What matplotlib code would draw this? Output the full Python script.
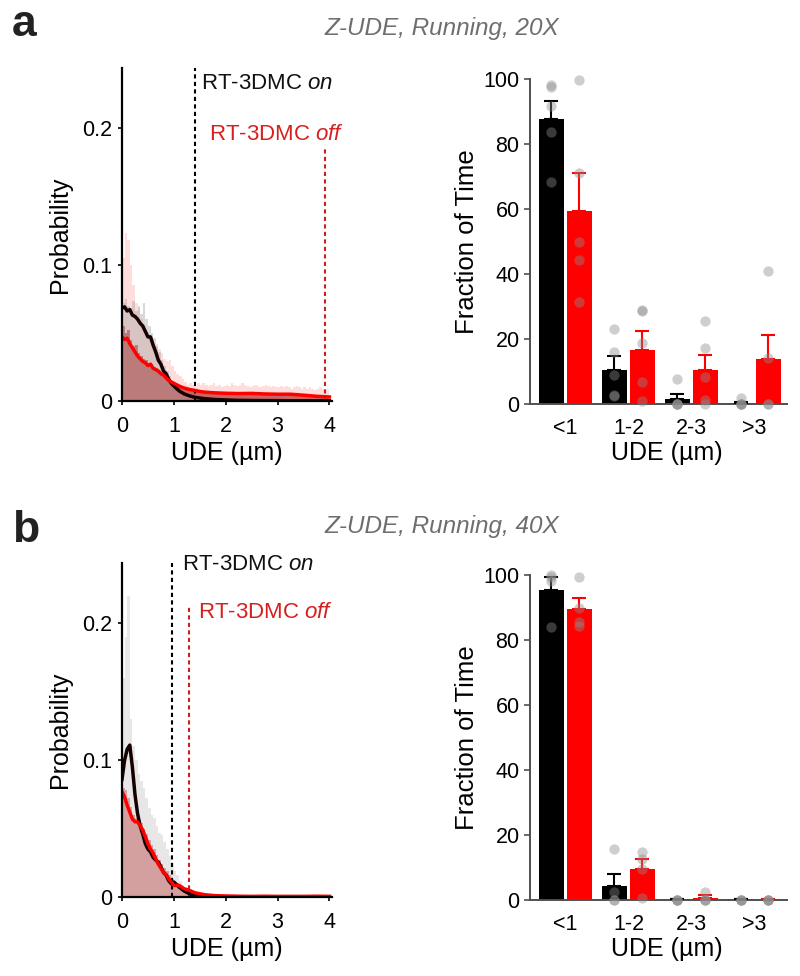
import numpy as np
import matplotlib
matplotlib.use("Agg")
import matplotlib.pyplot as plt

plt.rcParams['font.family'] = ['Liberation Sans', 'DejaVu Sans']
plt.rcParams['mathtext.fontset'] = 'custom'
plt.rcParams['mathtext.rm'] = 'Liberation Sans'
plt.rcParams['mathtext.it'] = 'Liberation Sans:italic'

# ---------------- data ----------------
bin_w = 0.05
line_x = [0, 0.05, 0.1, 0.15, 0.2, 0.25, 0.3, 0.35, 0.4, 0.45, 0.5, 0.55, 0.6, 0.65,
          0.7, 0.75, 0.8, 0.85, 0.9, 0.95, 1.0, 1.1, 1.2, 1.3, 1.4, 1.5, 1.6, 1.8,
          2.0, 2.25, 2.5, 2.75, 3.0, 3.25, 3.5, 3.75, 4.0]

# panel a (20X) histograms, bins of 0.05 from 0
a_gray_hist = [0.072, 0.075, 0.070, 0.068, 0.073, 0.066, 0.070, 0.064, 0.072, 0.060,
               0.055, 0.050, 0.046, 0.040, 0.036, 0.030, 0.026, 0.022, 0.018, 0.015,
               0.012, 0.010, 0.008, 0.006, 0.005, 0.004, 0.003, 0.003, 0.002, 0.002,
               0.002, 0.0015, 0.0015, 0.001, 0.001, 0.001, 0.001, 0.0008, 0.0008, 0.0008]
a_pink_hist = [0.105, 0.123, 0.118, 0.100, 0.085, 0.072, 0.068, 0.060, 0.056, 0.050,
               0.046, 0.044, 0.040, 0.042, 0.038, 0.035, 0.031, 0.029, 0.030, 0.026,
               0.022, 0.020, 0.018, 0.016, 0.014, 0.012, 0.013, 0.012, 0.011, 0.013,
               0.012, 0.013, 0.012, 0.011, 0.012, 0.013, 0.011, 0.012, 0.010, 0.011,
               0.012, 0.011, 0.013, 0.012, 0.011, 0.012, 0.013, 0.012, 0.011, 0.010,
               0.011, 0.012, 0.011, 0.010, 0.011, 0.012, 0.011, 0.010, 0.011, 0.010,
               0.010, 0.011, 0.010, 0.011, 0.010, 0.009, 0.010, 0.011, 0.010, 0.009,
               0.010, 0.009, 0.010, 0.009, 0.008, 0.009, 0.010, 0.009, 0.008, 0.009]
a_red_hist = [0.055, 0.050, 0.052, 0.045, 0.040, 0.041, 0.035, 0.033, 0.031, 0.030,
              0.028, 0.027, 0.025, 0.024, 0.022, 0.020, 0.019, 0.017, 0.015, 0.014,
              0.012, 0.011, 0.010, 0.009, 0.0085, 0.008, 0.0078, 0.0075, 0.007, 0.0068,
              0.0066, 0.0065, 0.0062, 0.006, 0.006, 0.0058, 0.0058, 0.0057, 0.0056, 0.0056,
              0.0055, 0.0056, 0.0055, 0.0054, 0.0056, 0.0057, 0.0055, 0.0054, 0.0056, 0.0055,
              0.0054, 0.0053, 0.0055, 0.0052, 0.0053, 0.0051, 0.0052, 0.0050, 0.0051, 0.0050,
              0.0050, 0.0051, 0.0050, 0.0049, 0.0050, 0.0048, 0.0047, 0.0046, 0.0045, 0.0044,
              0.0042, 0.0041, 0.0040, 0.0038, 0.0037, 0.0035, 0.0034, 0.0032, 0.0031, 0.0030]
a_black_line = [0.068, 0.069, 0.066, 0.067, 0.063, 0.062, 0.060, 0.057, 0.055, 0.051,
                0.047, 0.047, 0.041, 0.036, 0.030, 0.027, 0.022, 0.020, 0.016, 0.013,
                0.011, 0.0075, 0.0052, 0.0038, 0.0028, 0.0022, 0.0017, 0.0011,
                0.0008, 0.0005, 0.0004, 0.0003, 0.0003, 0.0002, 0.0002, 0.0002, 0.0002]
a_red_line = [0.047, 0.045, 0.046, 0.042, 0.039, 0.036, 0.033, 0.031, 0.029, 0.028,
              0.026, 0.027, 0.024, 0.023, 0.022, 0.020, 0.019, 0.017, 0.015, 0.014,
              0.013, 0.011, 0.0095, 0.0085, 0.0078, 0.0070, 0.0065, 0.006,
              0.0057, 0.0055, 0.0056, 0.0052, 0.0050, 0.0050, 0.0043, 0.0035, 0.0030]
a_on, a_off = 1.40, 3.91

# panel b (40X)
b_gray_hist = [0.16, 0.19, 0.22, 0.13, 0.11, 0.10, 0.09, 0.085, 0.08, 0.072,
               0.065, 0.06, 0.058, 0.052, 0.047, 0.045, 0.04, 0.035, 0.03, 0.025,
               0.019, 0.016, 0.012, 0.009, 0.007, 0.005, 0.004, 0.003, 0.002, 0.0015,
               0.0012, 0.001, 0.001, 0.0009, 0.0008, 0.0008, 0.0007, 0.0006, 0.0006, 0.0005]
b_red_hist = [0.080, 0.078, 0.072, 0.066, 0.060, 0.058, 0.057, 0.054, 0.050, 0.046,
              0.042, 0.038, 0.035, 0.031, 0.027, 0.024, 0.021, 0.019, 0.016, 0.013,
              0.011, 0.010, 0.009, 0.007, 0.006, 0.005, 0.004, 0.003, 0.0025, 0.002,
              0.0018, 0.0015, 0.0012, 0.001, 0.0009, 0.0008, 0.0007, 0.0007, 0.0006, 0.0006]
b_black_line = [0.086, 0.100, 0.108, 0.111, 0.095, 0.075, 0.061, 0.052, 0.046, 0.039,
                0.035, 0.033, 0.029, 0.027, 0.0255, 0.022, 0.018, 0.016, 0.012, 0.0097,
                0.011, 0.0073, 0.0044, 0.0024, 0.0012, 0.0007, 0.0004, 0.0003,
                0.0002, 0.0002, 0.0002, 0.0002, 0.0002, 0.0002, 0.0002, 0.0002, 0.0002]
b_red_line = [0.077, 0.073, 0.067, 0.062, 0.057, 0.055, 0.055, 0.052, 0.049, 0.044,
              0.039, 0.035, 0.032, 0.028, 0.024, 0.021, 0.018, 0.0165, 0.0134, 0.011,
              0.0085, 0.0085, 0.006, 0.0049, 0.0032, 0.0024, 0.0017, 0.001,
              0.0008, 0.0006, 0.0005, 0.0006, 0.0005, 0.0005, 0.0005, 0.0006, 0.0005]
b_on, b_off = 0.96, 1.29

# bar charts: fraction of time per UDE bin
cats = ['<1', '1-2', '2-3', '>3']
a_black_mean = [87.7, 10.6, 1.5, 0.3]
a_black_err = [5.6, 4.1, 1.7, 0.4]
a_red_mean = [59.3, 16.7, 10.4, 13.8]
a_red_err = [11.8, 5.9, 4.7, 7.5]
a_black_pts = [[98, 97.4, 91.6, 83.6, 68.2], [23.1, 15.9, 9.0, 2.9, 2.4],
               [7.8, 0, 0, 0, 0], [1.7, 0, 0, 0, 0]]
a_red_pts = [[99.8, 71, 49.8, 44.3, 31.3], [29.0, 28.5, 18.8, 6.7, 0.8],
             [25.6, 17.2, 8.3, 1.3, 0], [40.9, 14.2, 0, 0]]

b_black_mean = [95.4, 4.3, 0.2, 0.2]
b_black_err = [4.1, 3.8, 0, 0]
b_red_mean = [89.5, 9.4, 0.5, 0.3]
b_red_err = [3.5, 3.2, 1.0, 0]
b_black_pts = [[100, 99.5, 98, 84.1], [15.8, 2.3, 0, 0], [0, 0, 0, 0], [0, 0, 0, 0]]
b_red_pts = [[99.3, 89.7, 85.6, 84.4], [14.8, 12.5, 9.4, 0.5], [2.6, 0, 0, 0], [0, 0, 0, 0]]

RED = '#ff0000'
TXT_RED = '#d71f1f'


def hist_panel(ax, gray_h, red_h, pink_h, black_l, red_l, x_on, x_off, off_top, on_xy, off_xy,
               red_col, gray_col):
    if pink_h is not None:
        xs = np.arange(len(pink_h)) * bin_w + bin_w / 2
        ax.bar(xs, pink_h, width=bin_w, color='#ff8f8f', alpha=0.3, lw=0, zorder=1)
    xs = np.arange(len(red_h)) * bin_w + bin_w / 2
    ax.bar(xs, red_h, width=bin_w, color=red_col, alpha=0.65, lw=0, zorder=2)
    xs = np.arange(len(gray_h)) * bin_w + bin_w / 2
    ax.bar(xs, gray_h, width=bin_w, color=gray_col, alpha=0.4, lw=0, zorder=3)
    ax.plot(line_x, black_l, color='#160000', lw=2.5, zorder=5)
    ax.plot(line_x, red_l, color=RED, lw=2.5, zorder=6)
    ax.axvline(x_on, color='black', lw=1.5, ls=(0, (2, 1.6)), zorder=4)
    ax.plot([x_off, x_off], [0, off_top], color='#cc1f1f', lw=1.5, ls=(0, (2, 1.6)), zorder=4)
    ax.text(on_xy[0], on_xy[1], r'RT-3DMC $\mathit{on}$', fontsize=16, color='#111111',
            va='center', ha='left')
    ax.text(off_xy[0], off_xy[1], r'RT-3DMC $\mathit{off}$', fontsize=16, color=TXT_RED,
            va='center', ha='left')
    ax.set_xlim(0, 4.05)
    ax.set_ylim(0, 0.244)
    ax.set_xticks([0, 1, 2, 3, 4])
    ax.set_yticks([0, 0.1, 0.2])
    ax.set_yticklabels(['0', '0.1', '0.2'])
    for s in ['top', 'right']:
        ax.spines[s].set_visible(False)
    for s in ['left', 'bottom']:
        ax.spines[s].set_linewidth(1.6)
        ax.spines[s].set_zorder(7)
    ax.tick_params(labelsize=15.5, length=3, width=1.2, pad=4)
    ax.tick_params(axis='x', pad=8)
    ax.set_ylabel('Probability', fontsize=18)
    ax.yaxis.set_label_coords(-0.24, 0.5)
    ax.set_xlabel('UDE (µm)', fontsize=18)
    ax.xaxis.set_label_coords(0.5, -0.12)


def bar_panel(ax, bm, be, rm, re, bpts, rpts):
    x = np.arange(len(cats))
    off, w = 0.222, 0.4
    ax.bar(x - off, bm, width=w, color='black', zorder=2)
    ax.bar(x + off, rm, width=w, color=RED, zorder=2)
    ax.errorbar(x - off, bm, yerr=[np.zeros(len(be)), be], fmt='none', ecolor='black',
                elinewidth=1.5, capsize=4.7, capthick=1.5, zorder=3)
    ax.errorbar(x + off, rm, yerr=[np.zeros(len(re)), re], fmt='none', ecolor=RED,
                elinewidth=1.5, capsize=4.7, capthick=1.5, zorder=3)
    for i in range(len(cats)):
        ax.scatter([x[i] - off] * len(bpts[i]), bpts[i], s=55, color='#8c8c8c', alpha=0.42,
                   lw=0, zorder=4, clip_on=False)
        ax.scatter([x[i] + off] * len(rpts[i]), rpts[i], s=55, color='#8c8c8c', alpha=0.42,
                   lw=0, zorder=4, clip_on=False)
    ax.set_xlim(-0.563, 3.516)
    ax.set_ylim(0, 100)
    ax.set_xticks(x)
    ax.set_xticklabels(cats)
    ax.set_yticks([0, 20, 40, 60, 80, 100])
    for s in ['top', 'right']:
        ax.spines[s].set_visible(False)
    for s in ['left', 'bottom']:
        ax.spines[s].set_linewidth(1.4)
        ax.spines[s].set_color('#505050')
    ax.tick_params(axis='y', labelsize=15.5, length=4, width=1.2, color='#505050')
    ax.tick_params(axis='x', labelsize=15.5, length=0, pad=10)
    ax.set_ylabel('Fraction of Time', fontsize=18.5)
    ax.yaxis.set_label_coords(-0.2, 0.5)
    ax.set_xlabel('UDE (µm)', fontsize=18)
    ax.xaxis.set_label_coords(0.533, -0.115)


fig = plt.figure(figsize=(8, 9.76), dpi=100)

ax1 = fig.add_axes([0.1525, 0.5891, 0.2625, 0.3412])
hist_panel(ax1, a_gray_hist, a_red_hist, a_pink_hist, a_black_line, a_red_line,
           a_on, a_off, 0.186, (1.52, 0.233), (1.67, 0.195), '#b52222', '#a0a0a0')
ax2 = fig.add_axes([0.6625, 0.5861, 0.32125, 0.333])
bar_panel(ax2, a_black_mean, a_black_err, a_red_mean, a_red_err, a_black_pts, a_red_pts)

ax3 = fig.add_axes([0.1525, 0.0809, 0.2625, 0.3422])
hist_panel(ax3, b_gray_hist, b_red_hist, None, b_black_line, b_red_line,
           b_on, b_off, 0.213, (1.15, 0.243), (1.46, 0.208), '#d04848', '#c4c4c4')
ax4 = fig.add_axes([0.6625, 0.0779, 0.32125, 0.333])
bar_panel(ax4, b_black_mean, b_black_err, b_red_mean, b_red_err, b_black_pts, b_red_pts)

fig.text(442 / 800, 1 - 28 / 976, 'Z-UDE, Running, 20X', fontsize=17.5, style='italic',
         color='#6e6e6e', ha='center', va='center')
fig.text(442 / 800, 1 - 527 / 976, 'Z-UDE, Running, 40X', fontsize=17.5, style='italic',
         color='#6e6e6e', ha='center', va='center')
fig.text(12 / 800, 1 - 25 / 976, 'a', fontsize=32, fontweight='bold', color='#222222',
         ha='left', va='center')
fig.text(12 / 800, 1 - 530 / 976, 'b', fontsize=32, fontweight='bold', color='#222222',
         ha='left', va='center')

fig.savefig('out.png', dpi=100)
